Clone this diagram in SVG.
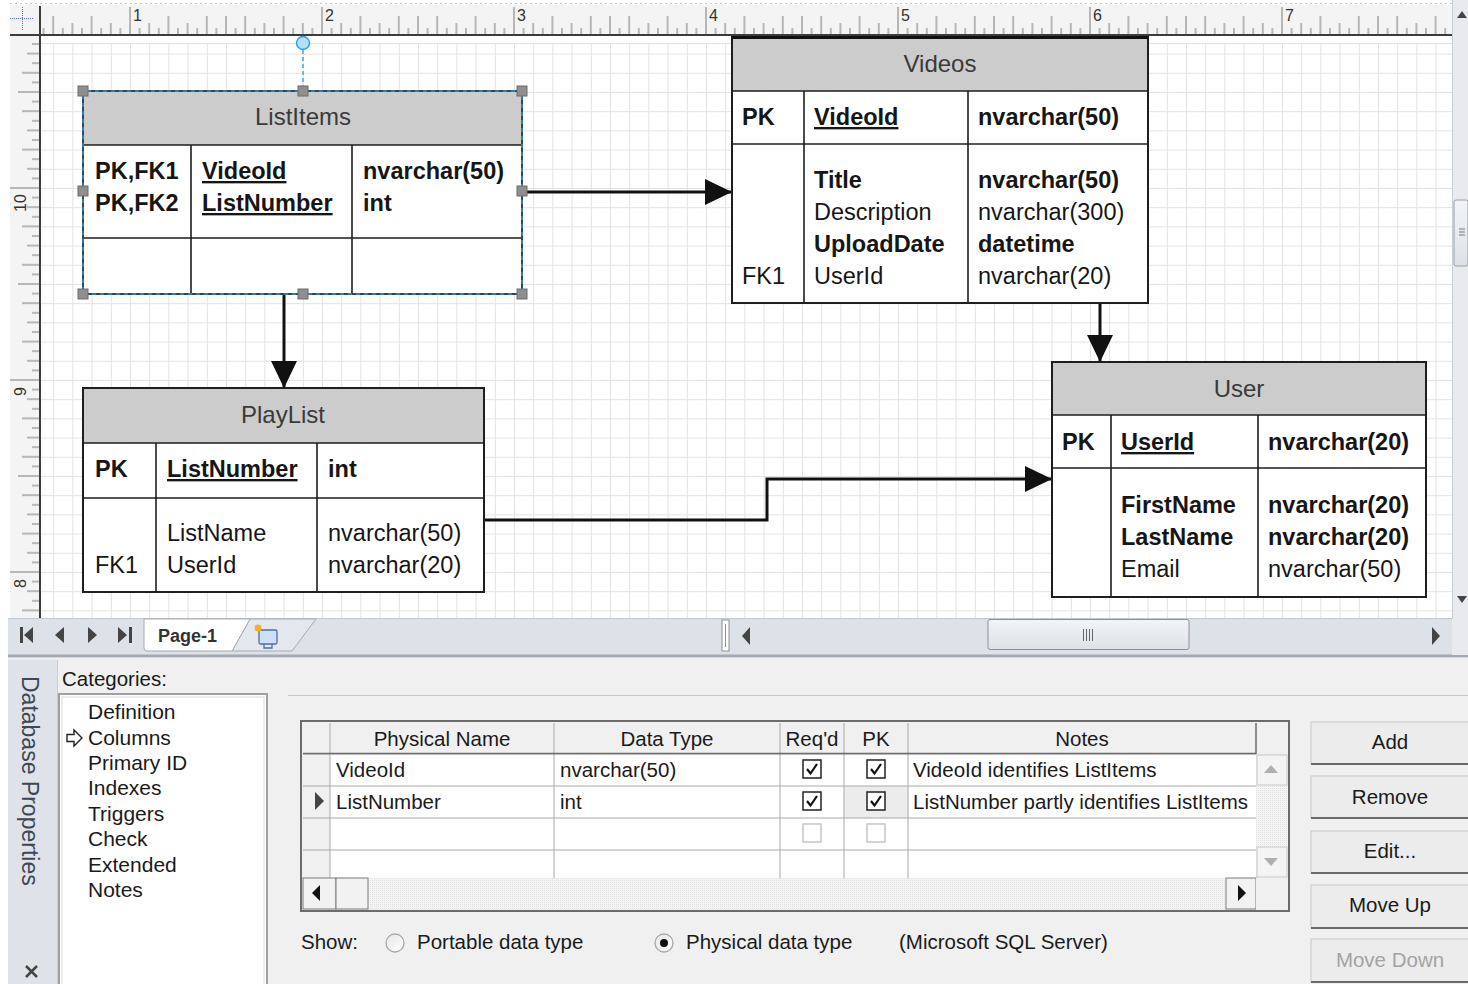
<svg xmlns="http://www.w3.org/2000/svg" width="1468" height="984" viewBox="0 0 1468 984">
<defs>
<style>
.t{font-family:"Liberation Sans",Arial,sans-serif;font-size:23.5px;fill:#161616}
.b{font-weight:bold}
.u{text-decoration:underline}
.h{font-family:"Liberation Sans",Arial,sans-serif;font-size:24px;fill:#3a3a3a;text-anchor:middle}
.hdr{fill:#cccccc}
.body{fill:#ffffff}
.frame{fill:none;stroke:#1e1e1e;stroke-width:2}
.div{stroke:#1e1e1e;stroke-width:1.6;fill:none}
.conn{fill:none;stroke:#111;stroke-width:3;marker-end:url(#arr)}
.ui{font-family:"Liberation Sans",Arial,sans-serif;font-size:20.5px;fill:#1a1a1a}
.cat{font-family:"Liberation Sans",Arial,sans-serif;font-size:21px;fill:#1a1a1a}
.rl{font-family:"Liberation Sans",Arial,sans-serif;font-size:16px;fill:#333}
.gl{stroke:#a9a9a9;stroke-width:1;fill:none}
.btn{fill:#ececec;stroke:#c6c6c6;stroke-width:1}
.btnb{stroke:#6a6a6a;stroke-width:2}
.handle{fill:#8f8f8f;stroke:#6c6c6c;stroke-width:1}
.arrow{fill:#444}
</style>
<pattern id="grid" patternUnits="userSpaceOnUse" x="14.8" y="15.2" width="19.2" height="19.2">
<path d="M0 0.5H19.2M0.5 0V19.2" stroke="#e2e2e2" stroke-width="1" fill="none"/>
</pattern>
<pattern id="rulerH" patternUnits="userSpaceOnUse" x="129.5" y="0" width="192" height="37">
<path d="M0.5 7V34M10.1 28V34M19.7 23V34M29.3 28V34M38.9 16V34M48.5 28V34M58.1 23V34M67.7 28V34M77.3 16V34M86.9 28V34M96.5 16V34M106.1 28V34M115.7 16V34M125.3 28V34M134.9 23V34M144.5 28V34M154.1 16V34M163.7 28V34M173.3 23V34M182.9 28V34" stroke="#7a7a7a" stroke-width="1" fill="none"/>
</pattern>
<pattern id="rulerV" patternUnits="userSpaceOnUse" x="0" y="187.5" width="40" height="192">
<path d="M10 0.5H40M32 10.1H40M27 19.7H40M32 29.3H40M22 38.9H40M32 48.5H40M27 58.1H40M32 67.7H40M22 77.3H40M32 86.9H40M18 96.5H40M32 106.1H40M22 115.7H40M32 125.3H40M27 134.9H40M32 144.5H40M22 154.1H40M32 163.7H40M27 173.3H40M32 182.9H40" stroke="#7a7a7a" stroke-width="1" fill="none"/>
</pattern>
<pattern id="dots" patternUnits="userSpaceOnUse" width="2" height="2">
<rect width="2" height="2" fill="#f4f4f4"/><rect width="1" height="1" fill="#e2e2e2"/>
</pattern>
<linearGradient id="thumb" x1="0" y1="0" x2="0" y2="1">
<stop offset="0" stop-color="#f2f4f7"/><stop offset="1" stop-color="#dde1e7"/>
</linearGradient>
<linearGradient id="radio" x1="0" y1="0" x2="1" y2="1">
<stop offset="0" stop-color="#e6e6e6"/><stop offset="1" stop-color="#ffffff"/>
</linearGradient>
<marker id="arr" markerUnits="userSpaceOnUse" markerWidth="28" markerHeight="28" refX="27" refY="13" orient="auto">
<path d="M0 0L27 13L0 26Z" fill="#111"/>
</marker>
<g id="cbOn">
<rect x="-9" y="-9" width="18" height="18" fill="#fff" stroke="#222" stroke-width="1.5"/>
<path d="M-5 0L-1.5 4.5L5 -5" fill="none" stroke="#111" stroke-width="2.2"/>
</g>
<g id="cbOff">
<rect x="-9" y="-9" width="18" height="18" fill="#fff" stroke="#bdbdbd" stroke-width="1.3"/>
</g>
</defs>

<!-- background -->
<rect x="0" y="0" width="1468" height="984" fill="#ffffff"/>

<!-- canvas -->
<g id="canvas">
<rect x="40" y="35" width="1412" height="583" fill="#ffffff"/>
<rect x="40" y="44" width="1412" height="574" fill="url(#grid)"/>
<line x1="40" y1="43.5" x2="1452" y2="43.5" stroke="#e2e2e2"/>
</g>

<!-- rulers -->
<g id="rulers">
<line x1="10" y1="3.5" x2="1452" y2="3.5" stroke="#b9c6f2" stroke-dasharray="2 3"/>
<rect x="10" y="5" width="1442" height="30" fill="#f4f4f4"/>
<rect x="40" y="5" width="1412" height="30" fill="url(#rulerH)"/>
<rect x="10" y="35" width="30" height="583" fill="#f4f4f4"/>
<rect x="10" y="36" width="30" height="582" fill="url(#rulerV)"/>
<line x1="10" y1="35" x2="1452" y2="35" stroke="#3c3c3c" stroke-width="2"/>
<line x1="40" y1="6" x2="40" y2="618" stroke="#3c3c3c" stroke-width="2"/>
<path d="M10 18.5H34M22.5 7V30" stroke="#5a72e8" stroke-width="1" stroke-dasharray="1 1"/>
<text class="rl" x="133" y="21">1</text>
<text class="rl" x="325" y="21">2</text>
<text class="rl" x="517" y="21">3</text>
<text class="rl" x="709" y="21">4</text>
<text class="rl" x="901" y="21">5</text>
<text class="rl" x="1093" y="21">6</text>
<text class="rl" x="1285" y="21">7</text>
<text class="rl" transform="translate(26,212) rotate(-90)">10</text>
<text class="rl" transform="translate(26,396) rotate(-90)">9</text>
<text class="rl" transform="translate(26,588) rotate(-90)">8</text>
</g>

<!-- right scrollbar -->
<g id="vscroll">
<rect x="1452" y="0" width="16" height="618" fill="#e8eaee"/>
<line x1="1452.5" y1="0" x2="1452.5" y2="618" stroke="#c9cdd4"/>
<path d="M1457 18L1462 11L1467 18Z" class="arrow"/>
<rect x="1454" y="200" width="14" height="66" rx="2" fill="url(#thumb)" stroke="#9aa0a8"/>
<path d="M1459 229H1465M1459 232H1465M1459 235H1465" stroke="#777"/>
<path d="M1457 596L1462 603L1467 596Z" class="arrow"/>
</g>

<!-- connectors -->
<g id="connectors">
<path class="conn" d="M522 192H732"/>
<path class="conn" d="M284 294V388"/>
<path class="conn" d="M1100 303V362"/>
<path class="conn" d="M484 520H767V479H1052"/>
</g>

<!-- ListItems -->
<g id="ListItems">
<rect class="body" x="83" y="91" width="439" height="203"/>
<rect class="hdr" x="83" y="91" width="439" height="54"/>
<rect class="frame" x="83" y="91" width="439" height="203"/>
<path class="div" d="M83 145H522M83 238H522M191 145V294M352 145V294"/>
<text class="h" x="303" y="125">ListItems</text>
<text class="t b" x="95" y="179">PK,FK1</text>
<text class="t b" x="95" y="211">PK,FK2</text>
<text class="t b u" x="202" y="179">VideoId</text>
<text class="t b u" x="202" y="211">ListNumber</text>
<text class="t b" x="363" y="179">nvarchar(50)</text>
<text class="t b" x="363" y="211">int</text>
<rect x="83" y="91" width="439" height="203" fill="none" stroke="#35a6ee" stroke-width="1.4"/>
<rect x="83" y="91" width="439" height="203" fill="none" stroke="#333" stroke-width="1.4" stroke-dasharray="4 4"/>
<line x1="303" y1="50" x2="303" y2="86" stroke="#35a6ee" stroke-width="1.4" stroke-dasharray="4 3"/>
<circle cx="303" cy="43" r="6.5" fill="#b5def9" stroke="#2f9ce2" stroke-width="1.4"/>
<rect class="handle" x="78" y="86" width="10" height="10"/>
<rect class="handle" x="298" y="86" width="10" height="10"/>
<rect class="handle" x="517" y="86" width="10" height="10"/>
<rect class="handle" x="78" y="186" width="10" height="10"/>
<rect class="handle" x="517" y="186" width="10" height="10"/>
<rect class="handle" x="78" y="289" width="10" height="10"/>
<rect class="handle" x="298" y="289" width="10" height="10"/>
<rect class="handle" x="517" y="289" width="10" height="10"/>
</g>

<!-- Videos -->
<g id="Videos">
<rect class="body" x="732" y="37" width="416" height="266"/>
<rect class="hdr" x="732" y="37" width="416" height="54"/>
<rect class="frame" x="732" y="37" width="416" height="266"/>
<line x1="732" y1="37.5" x2="1148" y2="37.5" stroke="#111" stroke-width="3"/>
<path class="div" d="M732 91H1148M732 144H1148M804 91V303M968 91V303"/>
<text class="h" x="940" y="72">Videos</text>
<text class="t b" x="742" y="125">PK</text>
<text class="t b u" x="814" y="125">VideoId</text>
<text class="t b" x="978" y="125">nvarchar(50)</text>
<text class="t b" x="814" y="188">Title</text>
<text class="t" x="814" y="220">Description</text>
<text class="t b" x="814" y="252">UploadDate</text>
<text class="t" x="814" y="284">UserId</text>
<text class="t b" x="978" y="188">nvarchar(50)</text>
<text class="t" x="978" y="220">nvarchar(300)</text>
<text class="t b" x="978" y="252">datetime</text>
<text class="t" x="978" y="284">nvarchar(20)</text>
<text class="t" x="742" y="284">FK1</text>
</g>

<!-- PlayList -->
<g id="PlayList">
<rect class="body" x="83" y="388" width="401" height="204"/>
<rect class="hdr" x="83" y="388" width="401" height="55"/>
<rect class="frame" x="83" y="388" width="401" height="204"/>
<path class="div" d="M83 443H484M83 498H484M156 443V592M317 443V592"/>
<text class="h" x="283" y="423">PlayList</text>
<text class="t b" x="95" y="477">PK</text>
<text class="t b u" x="167" y="477">ListNumber</text>
<text class="t b" x="328" y="477">int</text>
<text class="t" x="167" y="541">ListName</text>
<text class="t" x="167" y="573">UserId</text>
<text class="t" x="328" y="541">nvarchar(50)</text>
<text class="t" x="328" y="573">nvarchar(20)</text>
<text class="t" x="95" y="573">FK1</text>
</g>

<!-- User -->
<g id="User">
<rect class="body" x="1052" y="362" width="374" height="235"/>
<rect class="hdr" x="1052" y="362" width="374" height="53"/>
<rect class="frame" x="1052" y="362" width="374" height="235"/>
<path class="div" d="M1052 415H1426M1052 468H1426M1111 415V597M1258 415V597"/>
<text class="h" x="1239" y="397">User</text>
<text class="t b" x="1062" y="450">PK</text>
<text class="t b u" x="1121" y="450">UserId</text>
<text class="t b" x="1268" y="450">nvarchar(20)</text>
<text class="t b" x="1121" y="513">FirstName</text>
<text class="t b" x="1121" y="545">LastName</text>
<text class="t" x="1121" y="577">Email</text>
<text class="t b" x="1268" y="513">nvarchar(20)</text>
<text class="t b" x="1268" y="545">nvarchar(20)</text>
<text class="t" x="1268" y="577">nvarchar(50)</text>
</g>

<!-- page tab bar -->
<g id="tabbar">
<rect x="8" y="618" width="1460" height="38" fill="#dde1e8"/>
<line x1="8" y1="618.5" x2="1452" y2="618.5" stroke="#c3c8d0"/>
<line x1="8" y1="656" x2="1468" y2="656" stroke="#a4a9b1" stroke-width="3"/>
<rect x="20" y="627" width="3" height="16" class="arrow"/>
<path d="M33 627V643L24 635Z" class="arrow"/>
<path d="M64 627V643L55 635Z" class="arrow"/>
<path d="M88 627V643L97 635Z" class="arrow"/>
<path d="M118 627V643L127 635Z" class="arrow"/>
<rect x="129" y="627" width="3" height="16" class="arrow"/>
<path d="M232 651L292 651L316 619L250 619Z" fill="#e4e8ee" stroke="#a6abb3"/>
<path d="M144 619V648Q144 651 147 651H232L250 619Z" fill="#ffffff" stroke="#a6abb3"/>
<text x="158" y="642" font-family="Liberation Sans, Arial, sans-serif" font-size="18" font-weight="bold" fill="#333">Page-1</text>
<rect x="259" y="630" width="18" height="14" rx="1.5" fill="#cde0f6" stroke="#4b6e9e" stroke-width="1.3"/>
<path d="M264 644V648H272V644" fill="none" stroke="#4b6e9e" stroke-width="1.3"/>
<circle cx="258" cy="628" r="3.5" fill="#f4b21c"/>
<rect x="722" y="620" width="7" height="31" fill="#fff" stroke="#8c9097"/>
<line x1="725.5" y1="624" x2="725.5" y2="647" stroke="#8c9097"/>
<path d="M750 627V645L742 636Z" class="arrow"/>
<rect x="988" y="619.5" width="201" height="30" rx="2" fill="url(#thumb)" stroke="#8c9097"/>
<path d="M1083.5 629V641M1086.5 629V641M1089.5 629V641M1092.5 629V641" stroke="#666"/>
<path d="M1432 627V645L1440 636Z" class="arrow"/>
<rect x="1452" y="618" width="16" height="37" fill="#e8eaee"/>
</g>

<!-- properties panel -->
<g id="panel">
<rect x="8" y="658" width="1460" height="326" fill="#f0f0f0"/>
<rect x="8" y="660" width="49" height="324" fill="#dfe3e9"/>
<line x1="57.5" y1="660" x2="57.5" y2="984" stroke="#c9ced6"/>
<text transform="translate(22,676) rotate(90)" font-family="Liberation Sans, Arial, sans-serif" font-size="23" fill="#3d4756">Database Properties</text>
<path d="M26 966L37 977M37 966L26 977" stroke="#444" stroke-width="2.5"/>
<text class="ui" x="62" y="686">Categories:</text>
<rect x="59" y="694" width="208" height="292" fill="#ffffff" stroke="#a0a0a0" stroke-width="2"/>
<rect x="62" y="697" width="202" height="290" fill="none" stroke="#dcdcdc" stroke-width="1"/>
<path d="M67 734.5H74V730L82 738L74 746V741.5H67Z" fill="#fff" stroke="#222" stroke-width="1.4"/>
<text class="cat" x="88" y="719">Definition</text>
<text class="cat" x="88" y="745">Columns</text>
<text class="cat" x="88" y="770">Primary ID</text>
<text class="cat" x="88" y="795">Indexes</text>
<text class="cat" x="88" y="821">Triggers</text>
<text class="cat" x="88" y="846">Check</text>
<text class="cat" x="88" y="872">Extended</text>
<text class="cat" x="88" y="897">Notes</text>
<line x1="288" y1="695.5" x2="1468" y2="695.5" stroke="#c8c8c8"/>
</g>

<!-- columns grid -->
<g id="columnsGrid">
<rect x="301" y="721" width="988" height="190" fill="#f0f0f0" stroke="#6c6c6c" stroke-width="2"/>
<rect x="330" y="754" width="926" height="124" fill="#ffffff"/>
<rect x="303" y="723" width="953" height="31" fill="#f0f0f0"/>
<rect x="844" y="786" width="64" height="32" fill="#ececec"/>
<path class="gl" d="M303 754H1256M303 786H1256M303 818H1256M303 850H1256M330 723V878M554 723V878M780 723V878M844 723V878M908 723V878"/>
<line x1="303" y1="753.5" x2="1256" y2="753.5" stroke="#6c6c6c" stroke-width="1.5"/>
<line x1="1256" y1="723" x2="1256" y2="754" stroke="#6c6c6c" stroke-width="1.5"/>
<text class="ui" x="442" y="746" text-anchor="middle">Physical Name</text>
<text class="ui" x="667" y="746" text-anchor="middle">Data Type</text>
<text class="ui" x="812" y="746" text-anchor="middle">Req'd</text>
<text class="ui" x="876" y="746" text-anchor="middle">PK</text>
<text class="ui" x="1082" y="746" text-anchor="middle">Notes</text>
<text class="ui" x="336" y="777">VideoId</text>
<text class="ui" x="560" y="777">nvarchar(50)</text>
<text class="ui" x="913" y="777">VideoId identifies ListItems</text>
<text class="ui" x="336" y="809">ListNumber</text>
<text class="ui" x="560" y="809">int</text>
<text class="ui" x="913" y="809">ListNumber partly identifies ListItems</text>
<path d="M315 792V810L324 801Z" fill="#444"/>
<use href="#cbOn" x="812" y="769"/>
<use href="#cbOn" x="876" y="769"/>
<use href="#cbOn" x="812" y="801"/>
<use href="#cbOn" x="876" y="801"/>
<use href="#cbOff" x="812" y="833"/>
<use href="#cbOff" x="876" y="833"/>
<rect x="1256" y="754" width="32" height="124" fill="url(#dots)"/>
<rect x="1257" y="755" width="30" height="30" fill="#f4f4f4" stroke="#c8c8c8"/>
<path d="M1264 773L1271 765L1278 773Z" fill="#b0b0b0"/>
<rect x="1257" y="847" width="30" height="30" fill="#f4f4f4" stroke="#c8c8c8"/>
<path d="M1264 858L1271 866L1278 858Z" fill="#b0b0b0"/>
<rect x="303" y="878" width="953" height="31" fill="url(#dots)"/>
<rect x="303" y="878" width="33" height="31" fill="#f2f2f2" stroke="#7a7a7a"/>
<path d="M320 885V901L312 893Z" fill="#111"/>
<rect x="336" y="878" width="32" height="31" fill="#f2f2f2" stroke="#7a7a7a"/>
<rect x="1226" y="878" width="30" height="31" fill="#f2f2f2" stroke="#7a7a7a"/>
<path d="M1238 885V901L1246 893Z" fill="#111"/>
<rect x="1256" y="878" width="32" height="32" fill="#f0f0f0"/>
</g>

<!-- show options -->
<g id="showOptions">
<text class="ui" x="301" y="949">Show:</text>
<circle cx="395" cy="943" r="9" fill="url(#radio)" stroke="#a8a8a8" stroke-width="1.3"/>
<text class="ui" x="417" y="949">Portable data type</text>
<circle cx="664" cy="943" r="9" fill="url(#radio)" stroke="#a8a8a8" stroke-width="1.3"/>
<circle cx="664" cy="943" r="4" fill="#111"/>
<text class="ui" x="686" y="949">Physical data type</text>
<text class="ui" x="899" y="949">(Microsoft SQL Server)</text>
</g>

<!-- buttons -->
<g id="buttons">
<rect class="btn" x="1311" y="722" width="160" height="42"/>
<line class="btnb" x1="1311" y1="764" x2="1468" y2="764"/>
<text class="ui" x="1390" y="749" text-anchor="middle">Add</text>
<rect class="btn" x="1311" y="776" width="160" height="42"/>
<line class="btnb" x1="1311" y1="818" x2="1468" y2="818"/>
<text class="ui" x="1390" y="804" text-anchor="middle">Remove</text>
<rect class="btn" x="1311" y="831" width="160" height="42"/>
<line class="btnb" x1="1311" y1="873" x2="1468" y2="873"/>
<text class="ui" x="1390" y="858" text-anchor="middle">Edit...</text>
<rect class="btn" x="1311" y="885" width="160" height="43"/>
<line class="btnb" x1="1311" y1="928" x2="1468" y2="928"/>
<text class="ui" x="1390" y="912" text-anchor="middle">Move Up</text>
<rect class="btn" x="1311" y="939" width="160" height="43"/>
<line class="btnb" x1="1311" y1="982" x2="1468" y2="982"/>
<text class="ui" x="1390" y="967" text-anchor="middle" style="fill:#a3a3a3">Move Down</text>
</g>
</svg>
